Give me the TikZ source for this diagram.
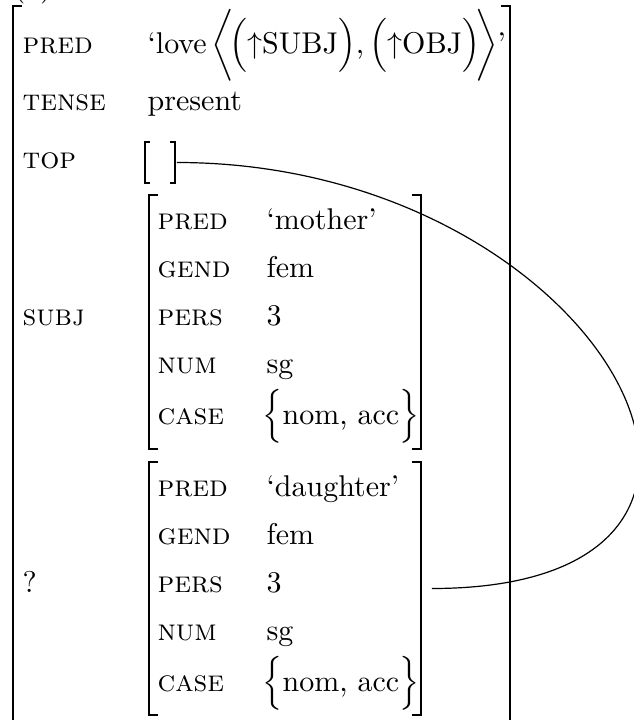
\documentclass[tikz,border=0pt]{standalone}
\usepackage{amsmath}
\usetikzlibrary{fit}
\begin{document}
\begin{tikzpicture}[x=0.33333pt,y=-0.33333pt,
  brk/.style={line width=0.6pt},
  smallbrk/.style={line width=0.45pt},
  attr/.style={anchor=base west,inner sep=0pt},
  val/.style={anchor=base west,inner sep=0pt},
  fsbox/.style={inner sep=0pt,outer sep=0pt},
  link/.style={line width=0.4pt}]
\useasboundingbox (0,0) rectangle (633,720);

% example label (mostly cut off at the top)
\node[attr] (ex) at (13,-4) {(a)};

% ---------- outer feature structure ----------
\coordinate (oNW) at (13,6);
\coordinate (oSE) at (510,760);
\node[fsbox, fit=(oNW)(oSE)] (outer) {};
\draw[brk] ([xshift=3pt]outer.north west) -- (outer.north west) -- (outer.south west) -- ++(9,0);
\draw[brk] ([xshift=-3pt]outer.north east) -- (outer.north east) -- (outer.south east) -- ++(-9,0);

\node[attr] (aPred)  at (22,53)  {\textsc{pred}};
\node[attr] (aTense) at (22,110) {\textsc{tense}};
\node[attr] (aTop)   at (22,168) {\textsc{top}};
\node[attr] (aSubj)  at (22,325) {\textsc{subj}};
\node[attr] (aQ)     at (22,592) {?};

\node[val] (vPred) at (147,53)
  {`love\,$\bigg\langle\!\Big(\mathord{\uparrow}\mathrm{SUBJ}\Big)$,\,$\Big(\mathord{\uparrow}\mathrm{OBJ}\Big)\!\bigg\rangle$'};
\node[val] (vTense) at (147,110) {present};

% empty TOP value
\coordinate (tNW) at (145,142);
\coordinate (tSE) at (175,183);
\node[fsbox, fit=(tNW)(tSE)] (topv) {};
\draw[smallbrk] ([xshift=1.6pt]topv.north west) -- (topv.north west) -- (topv.south west) -- ++(5,0);
\draw[smallbrk] ([xshift=-1.6pt]topv.north east) -- (topv.north east) -- (topv.south east) -- ++(-5,0);

% ---------- SUBJ feature structure ----------
\coordinate (sNW) at (149,195);
\coordinate (sSE) at (421,449);
\node[fsbox, fit=(sNW)(sSE)] (subj) {};
\draw[brk] ([xshift=3pt]subj.north west) -- (subj.north west) -- (subj.south west) -- ++(9,0);
\draw[brk] ([xshift=-3pt]subj.north east) -- (subj.north east) -- (subj.south east) -- ++(-9,0);

\node[attr] (sPredA) at (157,229) {\textsc{pred}};
\node[attr] (sGendA) at (157,277) {\textsc{gend}};
\node[attr] (sPersA) at (157,325) {\textsc{pers}};
\node[attr] (sNumA)  at (157,373) {\textsc{num}};
\node[attr] (sCaseA) at (157,424) {\textsc{case}};
\node[val] (sPredV) at (266,229) {`mother'};
\node[val] (sGendV) at (266,277) {fem};
\node[val] (sPersV) at (266,325) {3};
\node[val] (sNumV)  at (266,373) {sg};
\node[val] (sCaseV) at (262,424) {$\Big\{$nom, acc$\Big\}$};

% ---------- second feature structure ----------
\coordinate (dNW) at (149,462);
\coordinate (dSE) at (421,715);
\node[fsbox, fit=(dNW)(dSE)] (dau) {};
\draw[brk] ([xshift=3pt]dau.north west) -- (dau.north west) -- (dau.south west) -- ++(9,0);
\draw[brk] ([xshift=-3pt]dau.north east) -- (dau.north east) -- (dau.south east) -- ++(-9,0);

\node[attr] (dPredA) at (157,496) {\textsc{pred}};
\node[attr] (dGendA) at (157,544) {\textsc{gend}};
\node[attr] (dPersA) at (157,592) {\textsc{pers}};
\node[attr] (dNumA)  at (157,640) {\textsc{num}};
\node[attr] (dCaseA) at (157,691) {\textsc{case}};
\node[val] (dPredV) at (266,496) {`daughter'};
\node[val] (dGendV) at (266,544) {fem};
\node[val] (dPersV) at (266,592) {3};
\node[val] (dNumV)  at (266,640) {sg};
\node[val] (dCaseV) at (262,691) {$\Big\{$nom, acc$\Big\}$};

% ---------- structure-sharing connector ----------
\draw[link] ([xshift=0.6pt]topv.east) .. controls +(425,0) and +(400,0) .. ([xshift=3.6pt]dau.east);
\end{tikzpicture}
\end{document}
